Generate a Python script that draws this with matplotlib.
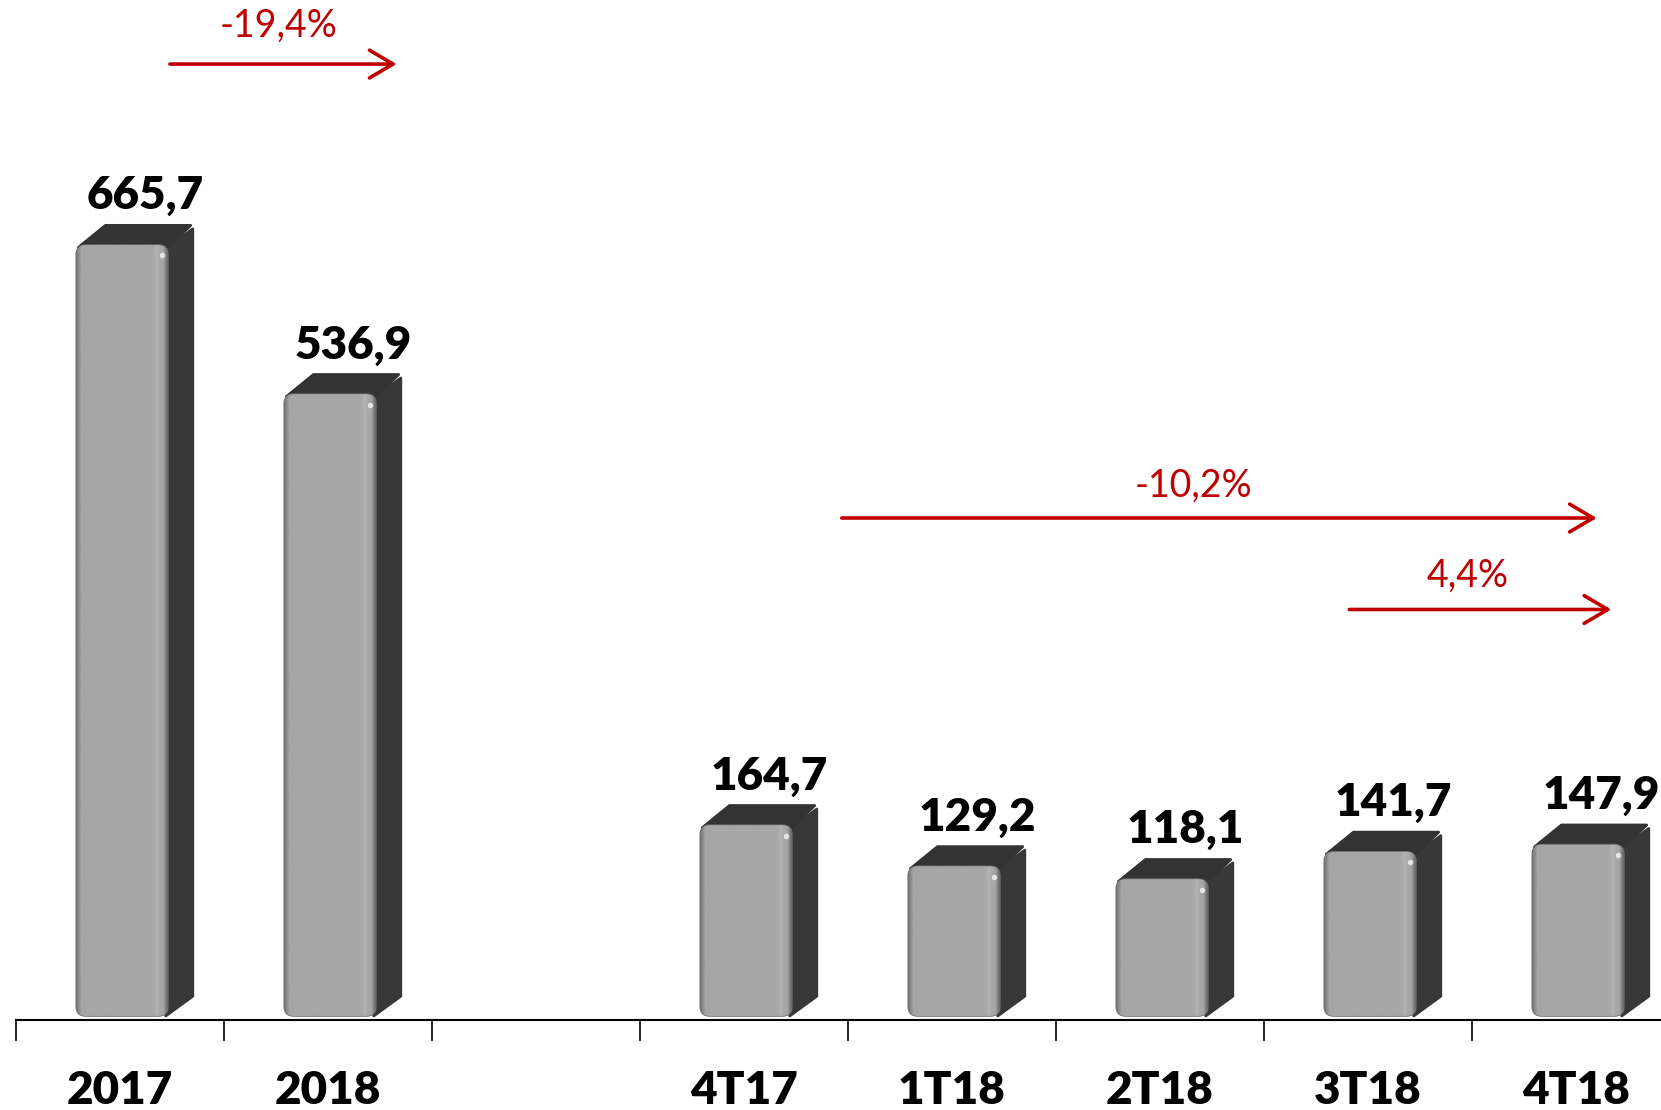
import numpy as np
import matplotlib.pyplot as plt
from matplotlib.patches import FancyBboxPatch, Polygon

plt.rcParams['font.family'] = ['Lato', 'DejaVu Sans']

# --- Data ---
categories = ["2017", "2018", "", "4T17", "1T18", "2T18", "3T18", "4T18"]
values = [665.7, 536.9, np.nan, 164.7, 129.2, 118.1, 141.7, 147.9]

# change arrows: label, start, end (category units), height (value units)
chg_labels = ["-19,4%", "-10,2%", "4,4%"]
chg_start = [0.24, 3.47, 5.91]
chg_end = [1.33, 7.10, 7.17]
chg_y = [822, 430, 351]
chg_text_x = [0.76, 5.16, 6.48]
chg_text_y = [855, 458, 380]

# --- Style ---
RED = "#c00000"
SIDE = "#383838"
TOP = "#333333"
W = 0.44      # front face width
OFF = -0.21   # front face left, relative to category center
DX = 0.12     # depth in x
DY = 17       # depth in y
PX_PER_UNIT = 1.158
PX_PER_CAT = 208

fig = plt.figure(figsize=(16.61, 11.10), dpi=100)
ax = fig.add_axes([16 / 1661, 90 / 1110, 1664 / 1661, 1020 / 1110])
ax.set_xlim(-0.5, len(categories) - 0.5)
ax.set_ylim(-3.5, 1020 / PX_PER_UNIT - 3.5)

aspect = (1 / PX_PER_UNIT) / (1 / PX_PER_CAT)

# gradient for the front face (horizontal bevel)
cols = np.linspace(0, 1, 200)
shade = np.full_like(cols, 0.65)
shade -= 0.20 * np.clip(1 - cols / 0.06, 0, 1)
shade -= 0.25 * np.clip(1 - (1 - cols) / 0.05, 0, 1)
shade += 0.05 * np.exp(-((cols - 0.88) / 0.03) ** 2)
grad = np.tile(shade, (2, 1))

for i, v in enumerate(values):
    if np.isnan(v):
        continue
    left = i + OFF
    right = left + W
    # side face
    side = Polygon([(right - 0.01, 0), (right + DX, DY), (right + DX, v + DY - 3),
                    (right - 0.01, v - 3)], closed=True, fc=SIDE, ec=SIDE,
                   lw=2, joinstyle='round', zorder=2)
    ax.add_patch(side)
    # top face
    top = Polygon([(left + 0.01, v - 2), (left + DX + 0.02, v + DY), (right + DX - 0.01, v + DY),
                   (right, v - 2)], closed=True, fc=TOP, ec=TOP, lw=2,
                  joinstyle='round', zorder=2)
    ax.add_patch(top)
    # front face
    front = FancyBboxPatch((left, 0), W, v, boxstyle="round,pad=0,rounding_size=0.045",
                           mutation_aspect=aspect, fc="#a6a6a6", ec="#6e6e6e",
                           lw=1.2, zorder=3)
    ax.add_patch(front)
    im = ax.imshow(grad, cmap='gray', vmin=0, vmax=1, aspect='auto',
                   extent=[left, right, 0, v], interpolation='bilinear', zorder=3)
    im.set_clip_path(front)
    # highlight
    ax.plot(right - 0.028, v - 9, 'o', ms=4, color='white', alpha=0.7, mew=0, zorder=4)
    # value label
    ax.text(i + 0.12, v + 31, f"{v:.1f}".replace('.', ','), ha='center', va='baseline',
            fontsize=33, fontweight='heavy', color='black', zorder=5)

# change arrows
for lab, x0, x1, y, tx, ty in zip(chg_labels, chg_start, chg_end, chg_y, chg_text_x, chg_text_y):
    ax.annotate("", xy=(x1, y), xytext=(x0, y),
                arrowprops=dict(arrowstyle="->,head_length=0.85,head_width=0.5",
                                color=RED, lw=2.6, mutation_scale=20,
                                shrinkA=0, shrinkB=0))
    ax.text(tx, ty, lab, ha='center', va='center', fontsize=27, color=RED)

# axes styling
for s in ['top', 'right', 'left']:
    ax.spines[s].set_visible(False)
ax.spines['bottom'].set_linewidth(1.5)
ax.spines['bottom'].set_color('black')
ax.set_yticks([])
ax.set_xticks(np.arange(len(categories) + 1) - 0.5)
ax.set_xticklabels([])
ax.tick_params(axis='x', which='major', length=15, width=1.2, color='black')
ax.set_xticks(np.arange(len(categories)), minor=True)
ax.set_xticklabels(categories, minor=True, fontsize=33, fontweight='heavy')
ax.tick_params(axis='x', which='minor', length=0, pad=36)

fig.savefig("out.png", dpi=100)
